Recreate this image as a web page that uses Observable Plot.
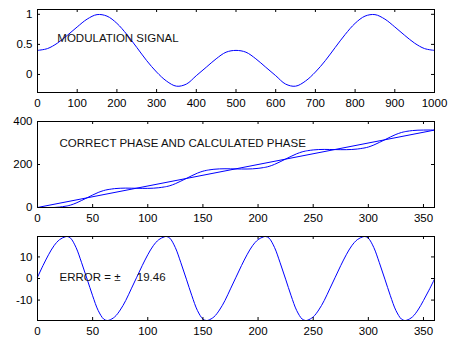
<!DOCTYPE html>
<html><head><meta charset="utf-8">
<script src="https://cdn.jsdelivr.net/npm/d3@7"></script>
<script src="https://cdn.jsdelivr.net/npm/@observablehq/plot@0.6"></script>
<style>
body{margin:0;background:#fff;}
#chart{width:457px;height:338px;background:#fff;}
#chart svg{display:block;}
</style></head><body><div id="chart"></div>
<script>
// ---- Panel 1: modulation signal ----
const modT = [0,25,50,75,100,125,150,175,200,225,250,275,300,325,350,375,400,425,450,475,500,
  525,550,575,600,625,650,675,700,725,750,775,800,825,850,875,900,925,950,975,1000];
const modV = [0.40,0.43,0.52,0.65,0.79,0.92,0.995,0.97,0.85,0.665,0.45,0.23,0.04,-0.11,-0.195,-0.16,-0.02,0.12,0.26,0.37,0.40,
  0.37,0.26,0.12,-0.02,-0.16,-0.195,-0.11,0.04,0.23,0.45,0.665,0.85,0.97,0.995,0.92,0.79,0.65,0.52,0.43,0.40];
const modXTicks = [0,100,200,300,400,500,600,700,800,900,1000];
const modYTicks = [0,0.5,1];

// ---- Panel 2: correct phase and calculated phase ----
const theta = [0,5,10,15,20,25,27,30,35,40,45,50,55,60,63,65,70,75,80,85,
  90,95,100,105,110,115,117,120,125,130,135,140,145,150,153,155,160,165,170,175,
  180,185,190,195,200,205,207,210,215,220,225,230,235,240,243,245,250,255,260,265,
  270,275,280,285,290,295,297,300,305,310,315,320,325,330,333,335,340,345,350,355,360];
const correctX = [0,360];
const correctPhase = [0,360];
const calcPhase = [0,0,0,0,2.0,5.7,7.5,11.3,20.7,32.7,45.3,58.0,69.8,78.8,82.5,84.3,87.8,89.6,90.2,89.8,
  89.4,89.0,89.0,89.8,92.0,95.7,97.5,101.3,110.7,122.7,135.3,148.0,159.8,168.8,172.5,174.3,177.8,179.6,180.2,179.8,
  179.4,179.0,179.0,179.8,182.0,185.7,187.5,191.3,200.7,212.7,225.3,238.0,249.8,258.8,262.5,264.3,267.8,269.6,270.2,269.8,
  269.4,269.0,269.0,269.8,272.0,275.7,277.5,281.3,290.7,302.7,315.3,328.0,339.8,348.8,352.5,354.3,357.8,359.6,360.2,360.4,360.3];
const wrapX = [360,360];
const wrapPhase = [360.3,0];
const phaseXTicks = [0,50,100,150,200,250,300,350];
const phaseYTicks = [0,200,400];

// ---- Panel 3: error ----
const errorV = [0.6,6.0,11.0,15.2,18.0,19.3,19.46,18.7,14.3,7.3,-0.3,-8.0,-14.8,-18.8,-19.46,-19.3,-17.8,-14.6,-10.2,-4.8,
  0.6,6.0,11.0,15.2,18.0,19.3,19.46,18.7,14.3,7.3,-0.3,-8.0,-14.8,-18.8,-19.46,-19.3,-17.8,-14.6,-10.2,-4.8,
  0.6,6.0,11.0,15.2,18.0,19.3,19.46,18.7,14.3,7.3,-0.3,-8.0,-14.8,-18.8,-19.46,-19.3,-17.8,-14.6,-10.2,-4.8,
  0.6,6.0,11.0,15.2,18.0,19.3,19.46,18.7,14.3,7.3,-0.3,-8.0,-14.8,-18.8,-19.46,-19.3,-17.8,-14.6,-10.2,-5.4,-0.3];
const errYTicks = [-10,0,10];

const labels = ["MODULATION SIGNAL", "CORRECT PHASE AND CALCULATED PHASE", "ERROR = \u00b1", "19.46"];

const FONT = "'Liberation Sans', Arial, Helvetica, sans-serif";
const BLUE = "#0000ff";

function panel({height, mt, mb, xDomain, yDomain, xTicks, yTicks, marks}) {
  const fh = height - mt - mb;
  const fw = 457 - 37 - 23;
  const fmt = d => String(d);
  return Plot.plot({
    width: 457, height, marginLeft: 37, marginRight: 23, marginTop: mt, marginBottom: mb,
    style: {fontFamily: FONT, fontSize: "11.5px", color: "#000", background: "#fff"},
    x: {domain: xDomain, label: null},
    y: {domain: yDomain, label: null},
    marks: [
      ...marks,
      Plot.tickX(xTicks, {x: d => d, insetTop: fh - 3, stroke: "#000"}),
      Plot.tickX(xTicks, {x: d => d, insetBottom: fh - 3, stroke: "#000"}),
      Plot.tickY(yTicks, {y: d => d, insetRight: fw - 3, stroke: "#000"}),
      Plot.tickY(yTicks, {y: d => d, insetLeft: fw - 3, stroke: "#000"}),
      Plot.frame({stroke: "#000"}),
      Plot.axisX({ticks: xTicks, tickSize: 0, tickPadding: 6.5, tickFormat: fmt, label: null, fill: "#000", fontSize: 11.5}),
      Plot.axisY({ticks: yTicks, tickSize: 0, tickPadding: 5, tickFormat: fmt, label: null, fill: "#000", fontSize: 11.5})
    ]
  });
}

const p1 = panel({
  height: 112, mt: 9, mb: 20,
  xDomain: [0, 1000], yDomain: [-0.3, 1.08],
  xTicks: modXTicks, yTicks: modYTicks,
  marks: [
    Plot.line(modV, {x: modT, y: modV, stroke: BLUE, strokeWidth: 1, curve: "catmull-rom"}),
    Plot.text([labels[0]], {x: [50], y: [0.6], text: d => d, textAnchor: "start", lineAnchor: "middle", fill: "#111", fontSize: 11.5})
  ]
});

const p2 = panel({
  height: 114, mt: 9, mb: 19,
  xDomain: [0, 360], yDomain: [0, 400],
  xTicks: phaseXTicks, yTicks: phaseYTicks,
  marks: [
    Plot.line(correctPhase, {x: correctX, y: correctPhase, stroke: BLUE, strokeWidth: 1}),
    Plot.line(calcPhase, {x: theta, y: calcPhase, stroke: BLUE, strokeWidth: 1, curve: "catmull-rom"}),
    Plot.line(wrapPhase, {x: wrapX, y: wrapPhase, stroke: BLUE, strokeWidth: 1}),
    Plot.text([labels[1]], {x: [20], y: [300], text: d => d, textAnchor: "start", lineAnchor: "middle", fill: "#111", fontSize: 11.5})
  ]
});

const p3 = panel({
  height: 112, mt: 10, mb: 18,
  xDomain: [0, 360], yDomain: [-19.46, 19.46],
  xTicks: phaseXTicks, yTicks: errYTicks,
  marks: [
    Plot.line(errorV, {x: theta, y: errorV, stroke: BLUE, strokeWidth: 1, curve: "catmull-rom"}),
    Plot.text([labels[2], labels[3]], {x: [20, 90], y: [0.6, 0.6], text: d => d, textAnchor: "start", lineAnchor: "middle", fill: "#111", fontSize: 11.5})
  ]
});

const root = document.getElementById("chart");
root.append(p1, p2, p3);
</script>
</body></html>
